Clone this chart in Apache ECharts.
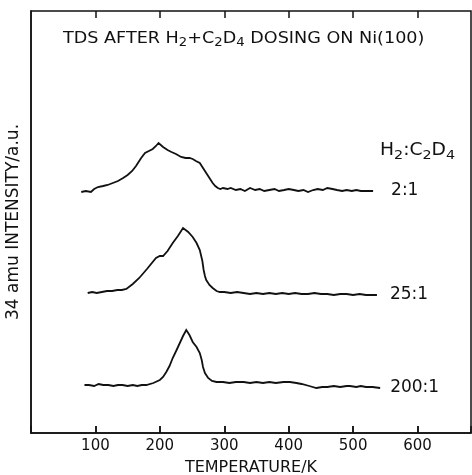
<!DOCTYPE html>
<html>
<head>
<meta charset="utf-8">
<script src="https://cdn.jsdelivr.net/npm/echarts@6/dist/echarts.min.js"></script>
<style>html,body{margin:0;padding:0;background:#fff}#c{width:472px;height:475px}</style>
</head>
<body>
<div id="c"></div>
<script>
// Temperature (K) and intensity (arbitrary units, offset per trace)
var ratioLabels = ['2:1', '25:1', '200:1'];
var xTicks = [100, 200, 300, 400, 500, 600];

var trace2to1 = [
  [78,241],[85,242],[93,241],[98,244],[104,246],[112,247],[119,248],[127,250],[135,252],[143,255],
  [150,258],[157,262],[163,267],[168,272],[171,275],[177,280],[183,282],[189,284],[194,287],[198,290],
  [205,286],[212,283],[218,281],[225,279],[233,276],[240,275],[246,275],[251,274],[256,272],[262,270],
  [267,265],[272,260],[277,255],[282,250],[286,247],[290,245],[294,244],[298,245],[305,244],[310,245],
  [318,243],[325,244],[332,242],[340,245],[348,243],[355,244],[362,242],[370,243],[378,244],[385,242],
  [393,243],[400,244],[408,243],[415,242],[423,243],[430,241],[438,243],[445,244],[453,243],[460,245],
  [468,244],[475,243],[483,242],[490,243],[498,242],[505,243],[512,242],[520,242],[531,242]
];
var trace25to1 = [
  [88,140],[95,141],[102,140],[110,141],[118,142],[126,142],[134,143],[141,143],[148,144],[158,149],
  [168,155],[180,164],[194,175],[200,177],[205,177],[212,182],[220,190],[228,197],[236,205],[244,201],
  [251,196],[257,190],[262,183],[266,172],[268,163],[270,157],[272,153],[277,148],[282,145],[288,142],
  [293,141],[300,141],[310,140],[320,141],[330,140],[340,139],[350,140],[360,139],[370,140],[380,139],
  [390,140],[400,139],[410,140],[420,139],[430,139],[440,140],[450,139],[460,139],[470,138],[480,139],
  [490,139],[500,138],[510,139],[520,138],[530,138],[537,138]
];
var trace200to1 = [
  [83,48],[90,48],[98,47],[105,49],[112,48],[120,48],[128,47],[135,48],[142,48],[150,47],
  [158,48],[165,47],[172,48],[179,48],[190,50],[200,53],[205,56],[210,61],[215,67],[220,75],
  [226,83],[231,90],[236,97],[241,103],[246,98],[251,91],[257,86],[262,80],[265,73],[267,66],
  [270,60],[275,55],[281,52],[288,51],[298,51],[308,50],[318,51],[330,51],[340,50],[350,51],
  [360,50],[370,51],[380,50],[392,51],[402,51],[412,50],[420,49],[432,47],[443,45],[452,46],
  [460,46],[470,47],[480,46],[490,47],[495,47],[505,46],[512,47],[520,46],[530,46],[542,45]
];

var ink = '#111';
var font = 'DejaVu Sans';
var traces = [trace2to1, trace25to1, trace200to1];
var endDist = [18, 13, 10];
var yMin = 0, yMax = 422, tickLen = 7;

// tick marks on the bottom and top frame, placed in axis coordinates at the tick values
var tickLines = [];
xTicks.forEach(function (t) {
  tickLines.push([{coord: [t, yMin]}, {coord: [t, yMin + tickLen]}]);
  tickLines.push([{coord: [t, yMax]}, {coord: [t, yMax - tickLen]}]);
});

var chart = echarts.init(document.getElementById('c'), null, {renderer: 'canvas'});
chart.setOption({
  animation: false,
  backgroundColor: '#fff',
  graphic: [{
    type: 'text', x: 63, y: 28, scaleX: 1.1,
    style: {
      text: '{a|TDS AFTER H}{s|2}{a|+C}{s|2}{a|D}{s|4}{a| DOSING ON Ni(100)}',
      rich: {
        a: {fontFamily: font, fontSize: 16, fill: ink},
        s: {fontFamily: font, fontSize: 12, fill: ink, padding: [9, 0, 0, 0]}
      }
    }
  }, {
    type: 'text', x: 380, y: 140, scaleX: 1.1,
    style: {
      text: '{a|H}{s|2}{a|:C}{s|2}{a|D}{s|4}',
      rich: {
        a: {fontFamily: font, fontSize: 17, fill: ink},
        s: {fontFamily: font, fontSize: 13, fill: ink, padding: [9, 0, 0, 0]}
      }
    }
  }],
  grid: {left: 31, right: 1, top: 11, bottom: 42, containLabel: false, outerBoundsMode: 'none',
    show: true, borderColor: ink, borderWidth: 1.5, backgroundColor: 'transparent'},
  xAxis: [{
    type: 'value', min: 0, max: 683, interval: 100, position: 'bottom',
    name: 'TEMPERATURE/K', nameLocation: 'middle', nameGap: 27,
    nameTextStyle: {fontFamily: font, fontSize: 16, color: ink},
    axisLine: {show: true, onZero: false, lineStyle: {color: ink, width: 1.5}},
    axisTick: {show: true, inside: true, length: 7, lineStyle: {color: ink, width: 1.5}},
    axisLabel: {fontFamily: font, fontSize: 15, color: ink, margin: 6,
      formatter: function (v) { return xTicks.indexOf(v) >= 0 ? String(v) : ''; }},
    splitLine: {show: false}
  }],
  yAxis: [{
    type: 'value', min: yMin, max: yMax,
    name: '34 amu INTENSITY/a.u.', nameLocation: 'middle', nameGap: 9, nameRotate: 90,
    nameTextStyle: {fontFamily: font, fontSize: 17, color: ink},
    axisLine: {show: true, onZero: false, lineStyle: {color: ink, width: 1.5}},
    axisTick: {show: false}, axisLabel: {show: false}, splitLine: {show: false}
  }],
  series: traces.map(function (d, i) {
    var s = {
      type: 'line', name: ratioLabels[i], data: d, xAxisIndex: 0, yAxisIndex: 0,
      showSymbol: false, symbol: 'none', smooth: false,
      lineStyle: {color: ink, width: 1.8, join: 'miter'},
      endLabel: {show: true, formatter: '{a}', distance: endDist[i],
        fontFamily: font, fontSize: 17, color: ink}
    };
    if (i === 0) {
      s.markLine = {
        silent: true, symbol: 'none', animation: false,
        label: {show: false},
        lineStyle: {color: ink, width: 1.5, type: 'solid'},
        data: tickLines
      };
    }
    return s;
  })
});
</script>
</body>
</html>
